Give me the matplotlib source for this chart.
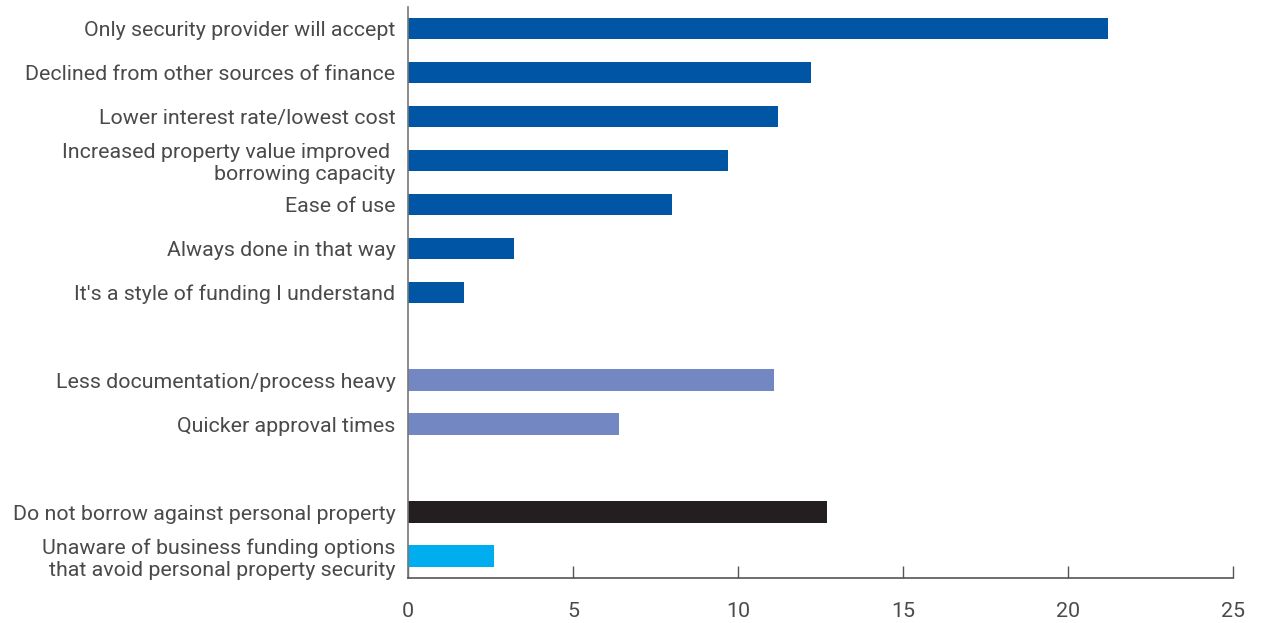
import numpy as np
import matplotlib
matplotlib.use("Agg")
import matplotlib.pyplot as plt

plt.rcParams["font.family"] = ["Roboto", "DejaVu Sans"]

labels = [
    "Only security provider will accept",
    "Declined from other sources of finance",
    "Lower interest rate/lowest cost",
    "Increased property value improved \nborrowing capacity",
    "Ease of use",
    "Always done in that way",
    "It's a style of funding I understand",
    "Less documentation/process heavy",
    "Quicker approval times",
    "Do not borrow against personal property",
    "Unaware of business funding options\nthat avoid personal property security",
]
values = [21.2, 12.2, 11.2, 9.7, 8.0, 3.2, 1.7, 11.1, 6.4, 12.7, 2.6]
groups = [0, 0, 0, 0, 0, 0, 0, 1, 1, 2, 3]
group_colors = ["#0055A4", "#7388C3", "#231F20", "#00AEEF"]

# positions: one empty slot between groups 0/1 and 1/2
positions = []
pos = 0
prev = groups[0]
for g in groups:
    if g != prev and g in (1, 2):
        pos += 1
    positions.append(pos)
    pos += 1
    prev = g
positions = np.array(positions)

fig = plt.figure(figsize=(12.62, 6.23), dpi=100)
ax = fig.add_axes([408 / 1262, 45 / 623, 825 / 1262, 571 / 623])

ax.barh(positions, values, height=0.48,
        color=[group_colors[g] for g in groups])

ax.set_xlim(0, 25)
ax.set_ylim(12.5, -0.48)
ax.set_xticks([0, 5, 10, 15, 20, 25])
ax.set_yticks(positions)
ax.set_yticklabels(labels)

text_color = "#4a4a4a"
ax.tick_params(axis="y", length=0, pad=9, labelsize=15.4, labelcolor=text_color)
ax.tick_params(axis="x", direction="in", length=9, width=1, color="#555555",
               pad=17, labelsize=15.4, labelcolor=text_color)
for lbl in ax.get_yticklabels():
    lbl.set_horizontalalignment("right")

ax.spines["top"].set_visible(False)
ax.spines["right"].set_visible(False)
ax.spines["left"].set_color("#777777")
ax.spines["bottom"].set_color("#555555")
ax.spines["left"].set_linewidth(1.2)
ax.spines["bottom"].set_linewidth(1.2)

fig.savefig("out.png", dpi=100)
